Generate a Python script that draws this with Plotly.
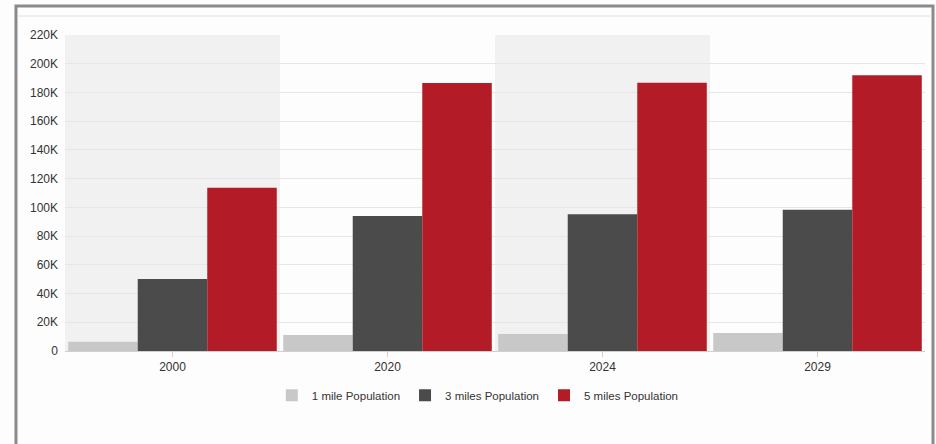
import plotly.graph_objects as go

years = ["2000", "2020", "2024", "2029"]
pop_1mi = [6500, 11200, 11800, 12500]
pop_3mi = [50200, 94000, 95200, 98300]
pop_5mi = [113600, 186600, 186700, 192000]
series_names = ["1 mile Population", "3 miles Population", "5 miles Population"]
colors = ["#c8c8c8", "#4b4b4b", "#b31c27"]
y_ticks = [0, 20000, 40000, 60000, 80000, 100000, 120000, 140000, 160000, 180000, 200000, 220000]
y_tick_labels = ["0", "20K", "40K", "60K", "80K", "100K", "120K", "140K", "160K", "180K", "200K", "220K"]

fig = go.Figure()
for name, vals, c in zip(series_names, [pop_1mi, pop_3mi, pop_5mi], colors):
    fig.add_trace(go.Bar(x=years, y=vals, name=name, marker=dict(color=c, line=dict(width=0))))

shapes = []
# alternating category bands
for i, _ in enumerate(years):
    if i % 2 == 0:
        shapes.append(dict(type="rect", xref="x", yref="paper", x0=i - 0.5, x1=i + 0.5, y0=0, y1=1,
                           fillcolor="#f1f1f1", line=dict(width=0), layer="below"))
# page frame
shapes.append(dict(type="rect", xref="paper", yref="paper", x0=-0.0570, x1=1.0093, y0=-0.35, y1=1.0918,
                   line=dict(color="#8a8a8a", width=3), fillcolor="rgba(0,0,0,0)", layer="above"))
shapes.append(dict(type="line", xref="paper", yref="paper", x0=-0.055, x1=1.008, y0=1.060, y1=1.060,
                   line=dict(color="#e2e2e2", width=1)))

fig.update_layout(
    width=936, height=444,
    margin=dict(l=65, r=11, t=35, b=93),
    paper_bgcolor="#fdfdfd", plot_bgcolor="#fdfdfd",
    barmode="group", bargap=0.03, bargroupgap=0,
    font=dict(family="Liberation Sans, Arial, sans-serif", size=12, color="#333333"),
    shapes=shapes,
    showlegend=True,
    legend=dict(orientation="h", x=0.48, xanchor="center", y=-0.14, yanchor="middle",
                font=dict(size=11.5, color="#333333"), bgcolor="rgba(0,0,0,0)", itemsizing="constant"),
    xaxis=dict(showgrid=False, showline=True, linecolor="#d0d0d0", linewidth=1,
               ticks="outside", ticklen=5, tickcolor="#d0d0d0", tickfont=dict(size=12, color="#333333")),
    yaxis=dict(range=[0, 220000], tickvals=y_ticks, ticktext=y_tick_labels, showgrid=True,
               gridcolor="#e6e6e6", gridwidth=1, zeroline=False, showline=False,
               tickfont=dict(size=12, color="#333333"), ticklabelstandoff=6),
)
fig.write_html("out.html")
